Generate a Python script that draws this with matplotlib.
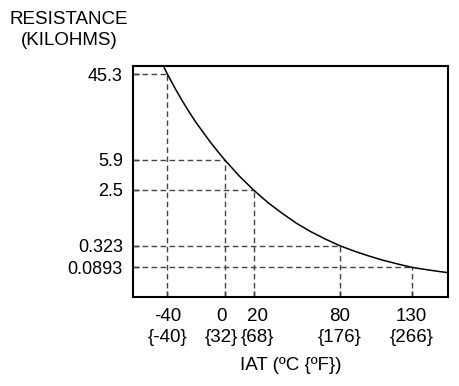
import numpy as np
import matplotlib
matplotlib.use("Agg")
import matplotlib.pyplot as plt
from matplotlib.transforms import ScaledTranslation

plt.rcParams['font.family'] = ['Liberation Sans', 'DejaVu Sans']

# valores marcados en el grafico
temp_c = [-40, 0, 20, 80, 130]
temp_f = [-40, 32, 68, 176, 266]
resist_kohm = [45.3, 5.9, 2.5, 0.323, 0.0893]

# curva (temperatura C, resistencia kOhm)
curve_t = [-43, -40, -35, -30, -25, -20, -10, -5, 0, 10, 20, 30, 40, 50, 60,
           70, 80, 90, 100, 110, 120, 130, 140, 150, 156]
curve_r = [55.7, 45.3, 33.0, 24.5, 18.58, 14.32, 8.98, 7.25, 5.9, 3.74, 2.5,
           1.573, 1.058, 0.733, 0.538, 0.4115, 0.323, 0.2342, 0.176, 0.1363,
           0.1094, 0.0893, 0.0779, 0.0688, 0.0645]

# escala esquematica del eje y: posicion de cada marca (layout)
tick_r = np.array(sorted(resist_kohm))
tick_pos = np.array([29.7, 51.3, 107.0, 137.0, 223.0])
tick_log = np.log10(tick_r)


def forward(v):
    L = np.log10(np.clip(np.asarray(v, dtype=float), 1e-9, None))
    y = np.interp(L, tick_log, tick_pos)
    lo = L < tick_log[0]
    hi = L > tick_log[-1]
    s0 = (tick_pos[1] - tick_pos[0]) / (tick_log[1] - tick_log[0])
    s1 = (tick_pos[-1] - tick_pos[-2]) / (tick_log[-1] - tick_log[-2])
    y[lo] = tick_pos[0] + (L[lo] - tick_log[0]) * s0
    y[hi] = tick_pos[-1] + (L[hi] - tick_log[-1]) * s1
    return y


def inverse(y):
    y = np.asarray(y, dtype=float)
    L = np.interp(y, tick_pos, tick_log)
    lo = y < tick_pos[0]
    hi = y > tick_pos[-1]
    s0 = (tick_log[1] - tick_log[0]) / (tick_pos[1] - tick_pos[0])
    s1 = (tick_log[-1] - tick_log[-2]) / (tick_pos[-1] - tick_pos[-2])
    L[lo] = tick_log[0] + (y[lo] - tick_pos[0]) * s0
    L[hi] = tick_log[-1] + (y[hi] - tick_pos[-1]) * s1
    return 10 ** L


fig = plt.figure(figsize=(4.59, 3.86), dpi=100)
ax = fig.add_axes([0.2904, 0.2306, 0.6856, 0.5984])
ax.set_yscale('function', functions=(forward, inverse))

xmin, xmax = -63.7, 155.3
ymin, ymax = inverse(np.array([0.0, 231.0]))
ax.set_xlim(xmin, xmax)
ax.set_ylim(ymin, ymax)

# lineas guia discontinuas
for t, r in zip(temp_c, resist_kohm):
    ax.plot([xmin, t], [r, r], ls=(0, (4, 2.5)), color='#444444', lw=1.0)
    ax.plot([t, t], [ymin, r], ls=(0, (4, 2.5)), color='#444444', lw=1.0)

ax.plot(curve_t, curve_r, color='black', lw=1.1)

ax.set_xticks(temp_c)
ax.set_xticklabels([f"{c}\n{{{f}}}" for c, f in zip(temp_c, temp_f)],
                   linespacing=1.3)
ax.set_yticks(resist_kohm)
ax.set_yticklabels([str(r) for r in resist_kohm])
ax.yaxis.set_minor_locator(matplotlib.ticker.NullLocator())
ax.tick_params(direction='in', length=4, width=1)
ax.tick_params(axis='x', labelsize=13.5, pad=8)
ax.tick_params(axis='y', labelsize=13, pad=7.5)

# separar un poco las etiquetas de 0 y 20 como en el original
for lbl, dx in zip(ax.get_xticklabels(), [0, -3, 3.5, 0, 0]):
    lbl.set_transform(lbl.get_transform() +
                      ScaledTranslation(dx / 100, 0, fig.dpi_scale_trans))

for s in ax.spines.values():
    s.set_linewidth(1.5)

fig.text(69 / 459, 1 - 30 / 386, "RESISTANCE\n(KILOHMS)", ha='center',
         va='center', fontsize=13.5, linespacing=1.27)
fig.text(291 / 459, 1 - 366 / 386, "IAT (ºC {ºF})", ha='center',
         va='center', fontsize=13.5)

fig.savefig("out.png", dpi=100)
